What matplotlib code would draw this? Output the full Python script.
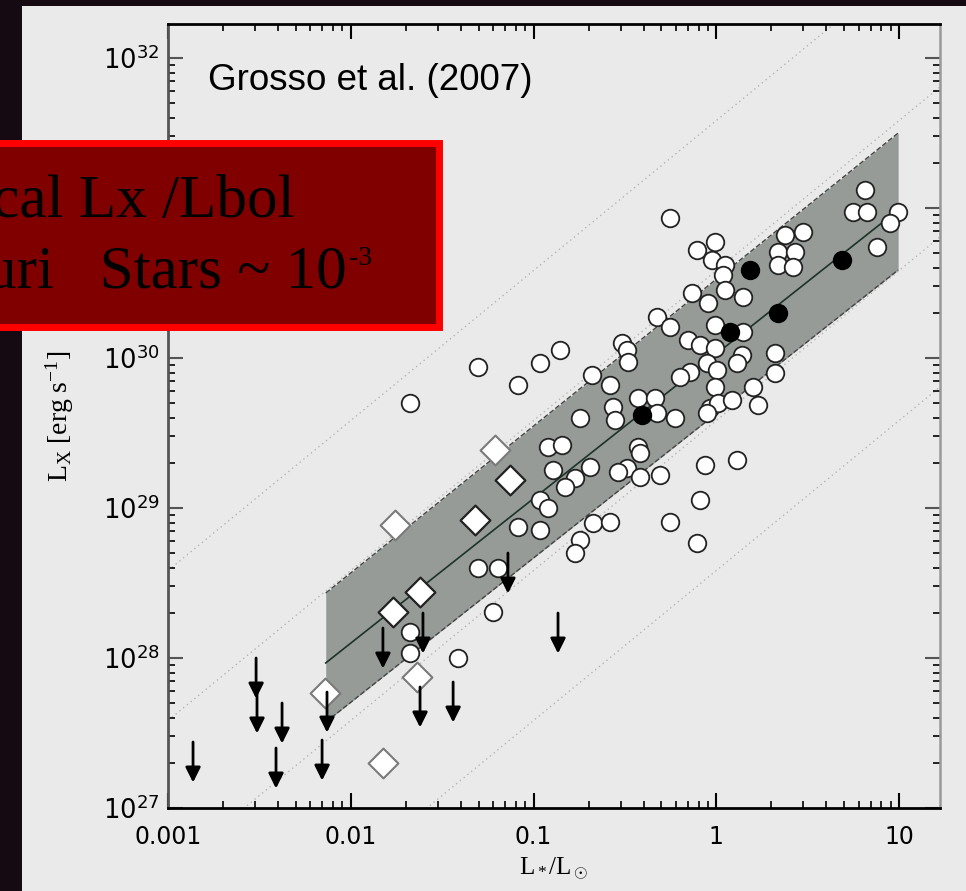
import numpy as np
import matplotlib
matplotlib.use('Agg')
import matplotlib.pyplot as plt
from matplotlib.patches import Rectangle
from matplotlib.ticker import LogLocator, FuncFormatter, NullFormatter

plt.rcParams['mathtext.fontset'] = 'custom'
plt.rcParams['mathtext.rm'] = 'Liberation Serif'
plt.rcParams['mathtext.it'] = 'Liberation Serif:italic'
plt.rcParams['mathtext.sf'] = 'DejaVu Sans'

# ---- data (log10 L*/Lsun, log10 Lx [erg/s]) ----
circ_logL = [-0.253, -0.007, -0.105, -0.023, 0.048, 0.037, 0.048, -0.133, -0.045, 0.146,
             0.376, 0.475, 0.338, 0.431, 0.338, 0.42, 0.814, 0.748, 0.825, 0.995,
             0.951, 0.88, 0.146, -0.007, -0.324, -0.253, -0.155, -0.089, -0.007, 0.141,
             0.114, 0.322, 0.322, -0.516, -0.488, -0.483, -0.144, -0.198, -0.051, 0.004,
             -0.007, 0.201, -0.581, -0.428, -0.335, -0.565, -0.324, -0.554, -0.226, -0.034,
             0.01, 0.086, 0.228, -0.051, -0.428, -0.417, -0.488, -0.062, 0.114, -0.308,
             -0.417, -0.855, -0.964, -1.304, -1.085, -1.676, -0.68, -0.746, -0.921, -0.844,
             -0.691, -0.893, -0.773, -0.828, -0.538, -0.964, -0.921, -1.085, -0.964, -0.674,
             -0.581, -0.746, -0.773, -1.304, -1.194, -1.222, -1.676, -1.676, -1.413, -0.253,
             -0.105, -0.087]
circ_logLx = [30.933, 30.773, 30.72, 30.653, 30.62, 30.553, 30.453, 30.433, 30.367, 30.407,
              30.82, 30.84, 30.707, 30.707, 30.62, 30.607, 31.12, 30.973, 30.973, 30.973,
              30.9, 30.74, 30.173, 30.22, 30.273, 30.207, 30.12, 30.087, 30.067, 30.02,
              29.967, 30.033, 29.9, 30.1, 30.053, 29.973, 29.907, 29.873, 29.967, 29.92,
              29.807, 29.807, 29.82, 29.733, 29.733, 29.673, 29.633, 29.587, 29.6, 29.667,
              29.7, 29.72, 29.687, 29.633, 29.407, 29.367, 29.267, 29.287, 29.32, 29.22,
              29.207, 30.053, 29.967, 29.94, 29.82, 29.7, 29.887, 29.6, 29.407, 29.42,
              29.273, 29.253, 29.2, 29.14, 29.24, 29.053, 29.0, 28.873, 28.853, 28.9,
              28.907, 28.787, 28.7, 28.6, 28.6, 28.307, 28.173, 28.033, 28.0, 28.907,
              28.767, 29.053]

filled_logL = [0.185, 0.688, 0.338, 0.075, -0.406]
filled_logLx = [30.587, 30.653, 30.3, 30.173, 29.62]

diam_logL = [-1.129, -1.32, -1.621, -1.769]
diam_logLx = [29.187, 28.92, 28.44, 28.307]
diam2_logL = [-1.211, -1.758, -2.141, -1.637, -1.824]
diam2_logLx = [29.387, 28.887, 27.767, 27.873, 27.3]

# upper limits
ul_logL = [-1.14, -0.866, -1.824, -1.605, -2.518, -2.513, -2.376, -2.13, -1.621, -1.44,
           -2.863, -2.409, -2.157]
ul_logLx = [28.7, 28.3, 28.2, 28.3, 28.0, 27.767, 27.7, 27.773, 27.807, 27.84,
            27.44, 27.4, 27.453]

# regression line and its band
fit_logL = [-2.137, 0.995]
fit_logLx = [27.967, 30.987]
band_lo = [27.573, 30.587]
band_hi = [28.433, 31.50]

# constant Lx/Lbol lines
ratio_exp = [-2, -3, -4, -5]
LSUN = 3.83e33

W, H = 966, 891
def fx(px): return px / W
def fy(py): return 1 - py / H

fig = plt.figure(figsize=(W / 100, H / 100), dpi=100)
fig.patch.set_facecolor('#160a12')
fig.add_artist(Rectangle((fx(22), 0), 1 - fx(22), fy(6), transform=fig.transFigure,
                         facecolor='#eaeaea', edgecolor='none', zorder=-5))

ax = fig.add_axes([fx(168), fy(808), fx(940) - fx(168), fy(24) - fy(808)])
ax.set_facecolor('#eaeaea')
ax.set_xscale('log')
ax.set_yscale('log')
ax.set_xlim(1e-3, 10 ** 1.224)
ax.set_ylim(1e27, 10 ** 32.227)

xx = np.array([1e-4, 100.0])
for k in ratio_exp:
    ax.plot(xx, 10.0 ** k * LSUN * xx, ls=(0, (1, 2.5)), color='#b5b5b5', lw=1.0, zorder=1)

fx_ = 10.0 ** np.array(fit_logL)
ax.fill_between(fx_, 10.0 ** np.array(band_lo), 10.0 ** np.array(band_hi),
                color='#969b98', lw=0, zorder=2)
ax.plot(fx_, 10.0 ** np.array(band_lo), ls='--', color='#444', lw=1, zorder=2)
ax.plot(fx_, 10.0 ** np.array(band_hi), ls='--', color='#444', lw=1, zorder=2)
ax.plot(fx_, 10.0 ** np.array(fit_logLx), color='#1c3328', lw=1.2, zorder=3)

ax.scatter(10.0 ** np.array(diam2_logL), 10.0 ** np.array(diam2_logLx), marker='D', s=230,
           facecolors='white', edgecolors='#7a7a7a', linewidths=1.5, zorder=4)
ax.scatter(10.0 ** np.array(diam_logL), 10.0 ** np.array(diam_logLx), marker='D', s=230,
           facecolors='white', edgecolors='#222', linewidths=1.6, zorder=4)
ax.scatter(10.0 ** np.array(circ_logL), 10.0 ** np.array(circ_logLx), marker='o', s=160,
           facecolors='white', edgecolors='#222', linewidths=1.3, zorder=5)
ax.scatter(10.0 ** np.array(filled_logL), 10.0 ** np.array(filled_logLx), marker='o', s=160,
           facecolors='black', edgecolors='black', linewidths=1.3, zorder=6)

for lx, ly in zip(ul_logL, ul_logLx):
    ax.annotate('', xy=(10.0 ** lx, 10.0 ** (ly - 0.27)), xytext=(10.0 ** lx, 10.0 ** ly),
                arrowprops=dict(arrowstyle='-|>,head_length=0.6,head_width=0.3',
                                color='black', lw=2, mutation_scale=15,
                                shrinkA=0, shrinkB=0), zorder=7)

# axes styling
ax.xaxis.set_major_locator(LogLocator(base=10, numticks=20))
ax.xaxis.set_minor_locator(LogLocator(base=10, subs=np.arange(2, 10), numticks=20))
ax.yaxis.set_major_locator(LogLocator(base=10, numticks=20))
ax.yaxis.set_minor_locator(LogLocator(base=10, subs=np.arange(2, 10), numticks=20))
ax.xaxis.set_major_formatter(FuncFormatter(lambda v, p: '%g' % v))
ax.yaxis.set_major_formatter(FuncFormatter(lambda v, p: r'$\mathsf{10^{%d}}$' % round(np.log10(v))))
ax.xaxis.set_minor_formatter(NullFormatter())
ax.yaxis.set_minor_formatter(NullFormatter())
ax.tick_params(which='both', direction='in', top=True, right=True)
ax.tick_params(which='major', length=11, width=1.5)
ax.tick_params(which='minor', length=5, width=1.2)
ax.tick_params(axis='x', labelsize=17, pad=12, color='black')
ax.tick_params(axis='y', labelsize=18.5, pad=6, color='#555')
for s in ['bottom', 'top']:
    ax.spines[s].set_color('black')
    ax.spines[s].set_linewidth(2)
ax.spines['left'].set_color('#555')
ax.spines['left'].set_linewidth(2)
ax.spines['right'].set_color('#999')
ax.spines['right'].set_linewidth(1.8)

ax.set_ylabel(r'$\mathrm{L_X\ [erg\ s^{-1}]}$', fontsize=20)
ax.yaxis.set_label_coords((76 - 168) / 772, 0.5)
ax.set_xlabel(r'$\mathrm{L_*/L_\odot}$', fontsize=18)
ax.xaxis.set_label_coords(0.5, -(855 - 808) / 784)

ax.text(fx(208), fy(80), 'Grosso et al. (2007)', transform=fig.transFigure,
        fontsize=26.5, family='Liberation Sans', va='center', ha='left', zorder=8)

# slide overlay box
fig.add_artist(Rectangle((fx(-20), fy(327)), fx(459), fy(143) - fy(327), transform=fig.transFigure,
                         facecolor='#800000', edgecolor='#ff0000', lw=5, zorder=10))
fig.text(fx(295), fy(217), 'Typical Lx /Lbol', ha='right', va='baseline',
         fontsize=44, family='Liberation Serif', color='black', zorder=11)
fig.text(fx(347), fy(287), 'for T Tauri   Stars ~ 10', ha='right', va='baseline',
         fontsize=44, family='Liberation Serif', color='black', zorder=11)
fig.text(fx(349), fy(265), '-3', ha='left', va='baseline',
         fontsize=20, family='Liberation Serif', color='black', zorder=11)

fig.savefig('out.png', dpi=100, facecolor=fig.get_facecolor())
